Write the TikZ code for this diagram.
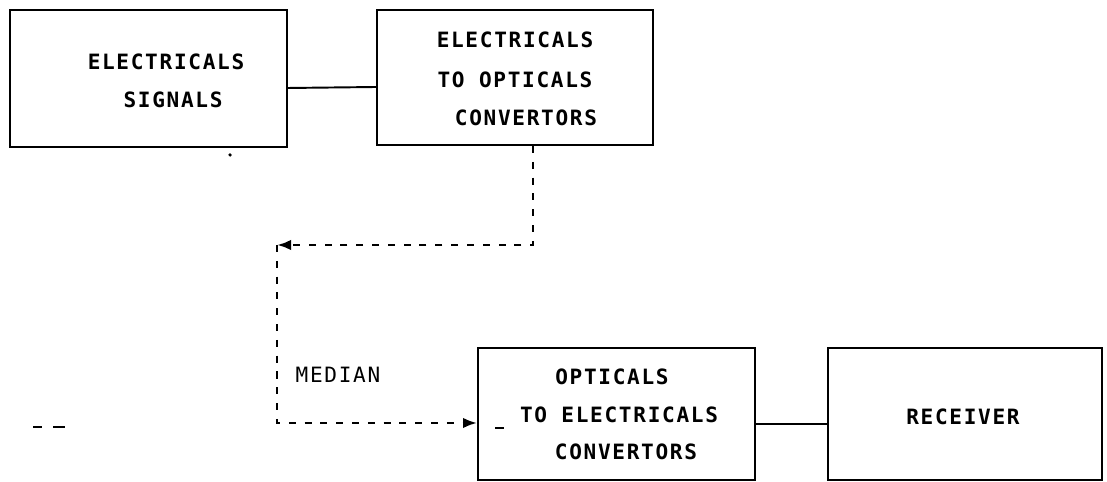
\documentclass[tikz,border=0pt]{standalone}
\usepackage{fontspec}
\newfontfamily\plotfont[LetterSpace=8]{DejaVu Sans Mono}
\usetikzlibrary{arrows.meta,positioning}
\tikzset{
  block/.style={draw,line width=1.1pt,minimum width=5.54cm,minimum height=2.64cm,inner sep=0pt},
  lbl/.style={font=\plotfont\bfseries\fontsize{12}{14}\selectfont,inner sep=0pt},
  thinlbl/.style={font=\plotfont\fontsize{12}{14}\selectfont,inner sep=0pt},
  fibre/.style={line width=1.5pt,dash pattern=on 4pt off 5pt},
  tip/.style={-{Latex[length=8pt,width=6pt]}}
}

\begin{document}
\begin{tikzpicture}[x=0.02cm, y=-0.02cm]
  \useasboundingbox (0,0) rectangle (1107,482);

  % Sender side
  \node[block, minimum height=2.74cm] (sig) at (148.5,78.5) {};
  \node[lbl] (sig1) at (166,62) {ELECTRICALS};
  \node[lbl] (sig2) at (173,100) {SIGNALS};

  \node[block, minimum width=5.52cm, minimum height=2.7cm] (eo) at (515,77.5) {};
  \node[lbl] (eo1) at (515,40) {ELECTRICALS};
  \node[lbl] (eo2) at (515,80) {TO OPTICALS};
  \node[lbl] (eo3) at (526,118) {CONVERTORS};

  \draw[line width=1.1pt] ([yshift=-0.19cm]sig.east) -- ([yshift=-0.19cm]eo.west);

  % Receiver side
  \node[block] (oe) at (616.5,414) {};
  \node[lbl] (oe1) at (612,377) {OPTICALS};
  \node[lbl] (oe2) at (619,415) {TO ELECTRICALS};
  \node[lbl] (oe3) at (626,452) {CONVERTORS};

  \node[block, minimum width=5.48cm] (rx) at (965,414) {};
  \node[lbl] (rx1) at (963,417) {RECEIVER};

  \draw[line width=1.1pt] ([yshift=-0.2cm]oe.east) -- ([yshift=-0.2cm]rx.west);

  % Optical link
  \coordinate (bend) at (277,245);
  \draw[fibre,tip] ([xshift=0.36cm]eo.south) |- (bend);
  \draw[fibre,tip] (bend) |- ([yshift=-0.18cm]oe.west);
  \node[thinlbl] (med) at (338,375) {MEDIAN};

  % Stray marks
  \fill (230,155) circle (1pt);
  \draw[line width=0.8pt] (33,427) -- (42,427) (53,427) -- (65,427);
  \draw[line width=0.8pt] (495,428) -- (504,428);
\end{tikzpicture}
\end{document}
